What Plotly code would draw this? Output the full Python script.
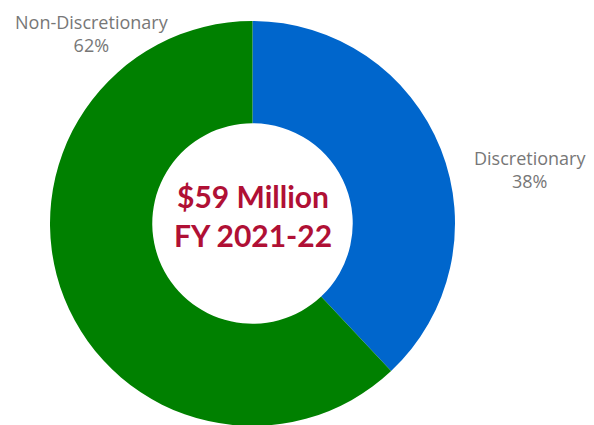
import plotly.graph_objects as go

labels = ["Discretionary", "Non-Discretionary"]
values = [38, 62]
colors = ["#0066CC", "#008000"]
center_lines = ["$59 Million", "FY 2021-22"]

W, H = 594, 425
cx, cy, r = 244.5, 215.5, 202.5  # figure pixel coords

fig = go.Figure(go.Pie(
    labels=labels, values=values, hole=0.495,
    sort=False, direction="clockwise", rotation=0,
    marker=dict(colors=colors, line=dict(width=0)),
    textinfo="none", hoverinfo="label+percent", showlegend=False,
    domain=dict(x=[(cx - r) / W, (cx + r) / W],
                y=[(H - cy - r) / H, (H - cy + r) / H]),
))

def ann(x, y, text, font, yanchor="middle"):
    fig.add_annotation(x=x / W, y=1 - y / H, xref="paper", yref="paper",
                       xanchor="center", yanchor=yanchor,
                       text=text, showarrow=False, font=font, align="center")

label_font = dict(family="Open Sans, sans-serif", size=18, color="#777777")
ann(83.5, 0, f"{labels[1]}<br>{values[1]}%", label_font, yanchor="top")
ann(522, 162, f"{labels[0]}<br>{values[0]}%", label_font)

center_font = dict(family="Lato, sans-serif", size=30, color="#B01035")
ann(cx + 0.5, 207.5, "<b>" + "<br>".join(center_lines) + "</b>", center_font)

fig.update_layout(width=W, height=H, margin=dict(l=0, r=0, t=0, b=0),
                  paper_bgcolor="white", plot_bgcolor="white")
fig.write_html("out.html")
